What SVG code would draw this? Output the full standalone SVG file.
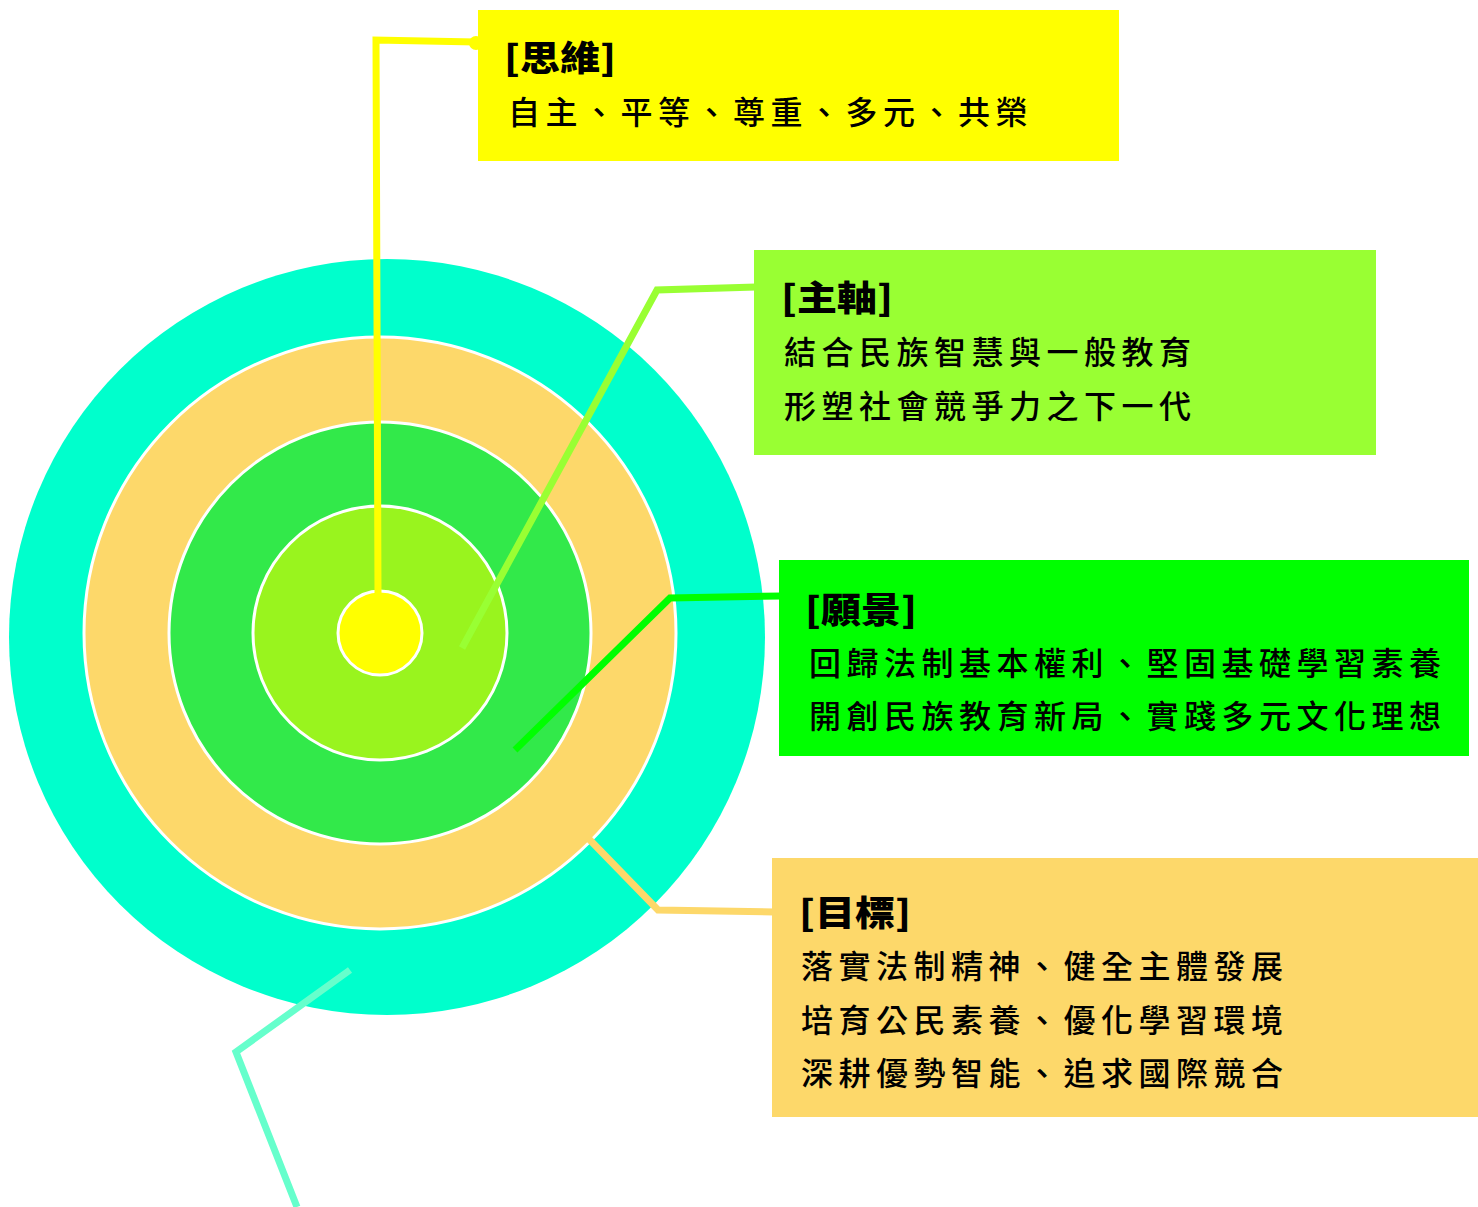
<svg xmlns="http://www.w3.org/2000/svg" width="1478" height="1207" viewBox="0 0 1478 1207">
<style>
.ring{stroke:#FFFFFF;stroke-width:3}
.hd{font-family:"Noto Sans CJK TC","Noto Sans CJK SC",sans-serif;font-weight:900;font-size:35px;fill:#000}
.tx{font-family:"Noto Sans CJK TC","Noto Sans CJK SC",sans-serif;font-weight:500;font-size:32px;letter-spacing:5.5px;fill:#000}
.cn{fill:none;stroke-width:7;stroke-linejoin:miter}
</style>
<rect width="1478" height="1207" fill="#FFFFFF"/>
<g id="rings">
<circle cx="387" cy="637" r="378" fill="#00FFCC"/>
<circle class="ring" cx="380" cy="633" r="296" fill="#FDD86A"/>
<circle class="ring" cx="380" cy="633" r="211" fill="#32E94A"/>
<circle class="ring" cx="380" cy="633" r="127" fill="#99F41E"/>
<circle class="ring" cx="380" cy="633" r="42" fill="#FFFF00"/>
</g>
<g id="connectors">
<polyline class="cn" points="378,595 376,40 476,42" stroke="#FFFF00" stroke-width="8"/>
<circle cx="476" cy="43" r="7" fill="#FFFF00"/>
<polyline class="cn" points="462,648 657,290 756,287" stroke="#99FF33"/>
<polyline class="cn" points="515,750 670,598 781,596" stroke="#00FF00" stroke-width="8"/>
<polyline class="cn" points="588,838 658,910 774,912" stroke="#FDD86A"/>
<polyline class="cn" points="350,970 236,1052 297,1207" stroke="#66FFCC"/>
</g>
<g id="node-siwei">
<rect x="478" y="10" width="641" height="151" fill="#FFFF00"/>
<text class="hd" x="504" y="71" textLength="112" lengthAdjust="spacingAndGlyphs">[思維]</text>
<text class="tx" x="508" y="124">自主、平等、尊重、多元、共榮</text>
</g>
<g id="node-zhuzhou">
<rect x="754" y="250" width="622" height="205" fill="#99FF33"/>
<text class="hd" x="781" y="311" textLength="112" lengthAdjust="spacingAndGlyphs">[主軸]</text>
<text class="tx" x="784" y="364">結合民族智慧與一般教育</text>
<text class="tx" x="784" y="418">形塑社會競爭力之下一代</text>
</g>
<g id="node-yuanjing">
<rect x="779" y="560" width="690" height="196" fill="#00FF00"/>
<text class="hd" x="805" y="623" textLength="112" lengthAdjust="spacingAndGlyphs">[願景]</text>
<text class="tx" x="809" y="675">回歸法制基本權利、堅固基礎學習素養</text>
<text class="tx" x="809" y="728">開創民族教育新局、實踐多元文化理想</text>
</g>
<g id="node-mubiao">
<rect x="772" y="858" width="706" height="259" fill="#FDD86A"/>
<text class="hd" x="799" y="926" textLength="112" lengthAdjust="spacingAndGlyphs">[目標]</text>
<text class="tx" x="801" y="978">落實法制精神、健全主體發展</text>
<text class="tx" x="801" y="1032">培育公民素養、優化學習環境</text>
<text class="tx" x="801" y="1085">深耕優勢智能、追求國際競合</text>
</g>
</svg>
